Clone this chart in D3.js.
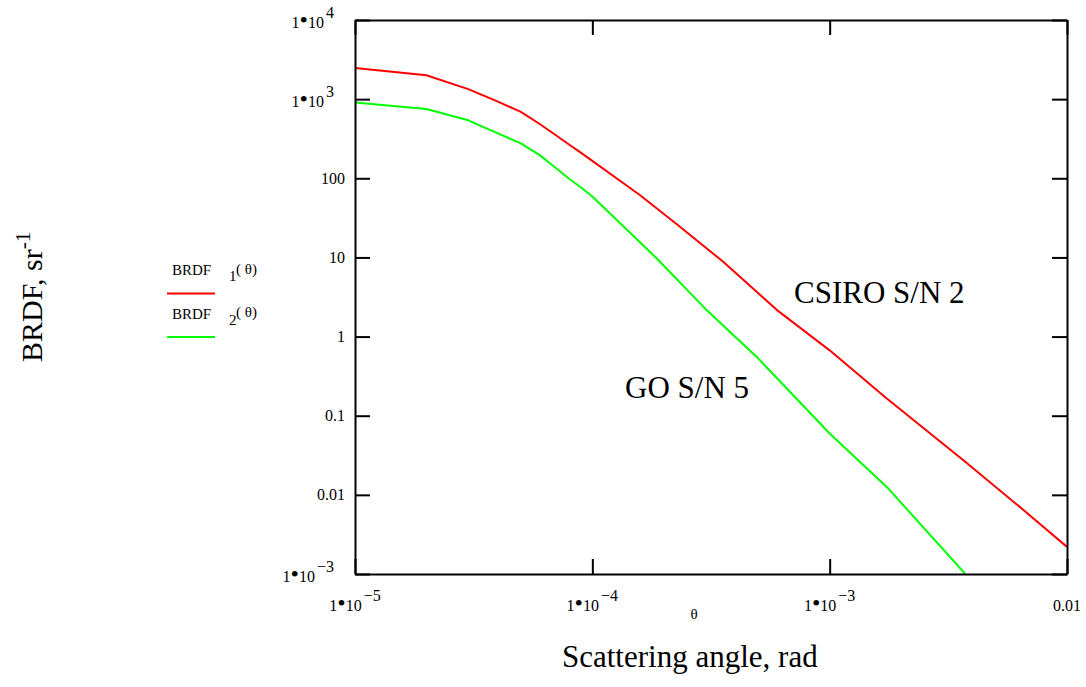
<!DOCTYPE html>
<html>
<head>
<meta charset="utf-8">
<script src="https://cdn.jsdelivr.net/npm/d3@7.9.0/dist/d3.min.js"></script>
<style>
  body { margin: 0; background: #fff; }
  svg { display: block; font-family: "Liberation Serif", "Times New Roman", serif; }
</style>
</head>
<body>
<svg id="chart" width="1086" height="687"></svg>
<script>
// scattering angle (rad) and BRDF values
const thetaRed = [1e-5, 2e-5, 3e-5, 4e-5, 5e-5, 6e-5, 7e-5, 8e-5, 9e-5, 1e-4,
  1.59e-4, 2.34e-4, 3.56e-4, 6e-4, 1e-3, 1.74e-3, 3.66e-3, 6.34e-3, 1e-2];
const brdfRed = [2470, 2000, 1340, 930, 690, 485, 352, 265, 208, 166,
  61, 24.4, 8.8, 2.16, 0.67, 0.165, 0.0274, 0.0070, 0.0022];

const thetaGreen = [1e-5, 2e-5, 3e-5, 4e-5, 5e-5, 6e-5, 7e-5, 8e-5, 9e-5, 1e-4,
  1.87e-4, 3.03e-4, 4.93e-4, 1e-3, 1.74e-3, 3.72e-3];
const brdfGreen = [910, 750, 540, 369, 276, 196, 136, 98, 76, 59,
  9.7, 2.16, 0.553, 0.0596, 0.0126, 0.00101];

const xTicks = [1e-5, 1e-4, 1e-3, 1e-2];
const xTickMant = ["1", "1", "1", ""];
const xTickBase = ["10", "10", "10", "0.01"];
const xTickExp = ["−5", "−4", "−3", ""];

const yTicks = [1e4, 1e3, 100, 10, 1, 0.1, 0.01, 1e-3];
const yTickMant = ["1", "1", "", "", "", "", "", "1"];
const yTickBase = ["10", "10", "100", "10", "1", "0.1", "0.01", "10"];
const yTickExp = ["4", "3", "", "", "", "", "", "−3"];

const seriesNames = ["1", "2"];
const seriesColors = ["#ff0000", "#00ff00"];

const svg = d3.select('#chart');
const plotLeft = 355, plotRight = 1067, plotTop = 20, plotBottom = 574;

const x = d3.scaleLog().domain([1e-5, 1e-2]).range([plotLeft, plotRight]);
const y = d3.scaleLog().domain([1e-3, 1e4]).range([plotBottom, plotTop]);

// clip so the curves stop at the frame
svg.append('clipPath').attr('id', 'plotclip')
  .append('rect').attr('x', plotLeft).attr('y', plotTop)
  .attr('width', plotRight - plotLeft).attr('height', plotBottom - plotTop);

const line = d3.line().x(d => x(d[0])).y(d => y(d[1]));

const series = [
  thetaRed.map((t, i) => [t, brdfRed[i]]),
  thetaGreen.map((t, i) => [t, brdfGreen[i]])
];

svg.append('g').attr('clip-path', 'url(#plotclip)')
  .selectAll('path')
  .data(series)
  .join('path')
  .attr('d', line)
  .attr('fill', 'none')
  .attr('stroke', (_, i) => seriesColors[i])
  .attr('stroke-width', 2)
  .attr('stroke-linejoin', 'round');

// inward ticks on all four sides, frame drawn by the domain paths
function styleAxis(g) {
  g.selectAll('.domain').attr('stroke', '#000').attr('stroke-width', 2);
  g.selectAll('.tick line').attr('stroke', '#000').attr('stroke-width', 2);
}
svg.append('g').attr('transform', `translate(0,${plotBottom})`)
  .call(d3.axisBottom(x).tickValues(xTicks).tickSize(-15).tickSizeOuter(0).tickFormat(''))
  .call(styleAxis);
svg.append('g').attr('transform', `translate(0,${plotTop})`)
  .call(d3.axisTop(x).tickValues(xTicks).tickSize(-15).tickSizeOuter(0).tickFormat(''))
  .call(styleAxis);
svg.append('g').attr('transform', `translate(${plotLeft},0)`)
  .call(d3.axisLeft(y).tickValues(yTicks).tickSize(-15).tickSizeOuter(0).tickFormat(''))
  .call(styleAxis);
svg.append('g').attr('transform', `translate(${plotRight},0)`)
  .call(d3.axisRight(y).tickValues(yTicks).tickSize(-15).tickSizeOuter(0).tickFormat(''))
  .call(styleAxis);

// "1•10^n" style label: mantissa, big dot, base, raised exponent
function sciLabel(t, mant, base, exp) {
  if (mant) {
    t.append('tspan').text(mant);
    t.append('tspan').attr('font-size', 24).text('•');
  }
  t.append('tspan').text(base);
  if (exp) t.append('tspan').attr('dy', -10).attr('dx', 2).text(exp);
}

// y tick labels
yTicks.forEach((v, i) => {
  const hasExp = yTickExp[i] !== '';
  const t = svg.append('text')
    .attr('x', hasExp ? plotLeft - 21 : plotLeft - 10)
    .attr('y', y(v) + (hasExp ? 8 : 5.5))
    .attr('text-anchor', 'end')
    .attr('font-size', 16);
  sciLabel(t, yTickMant[i], yTickBase[i], yTickExp[i]);
});

// x tick labels
xTicks.forEach((v, i) => {
  const t = svg.append('text')
    .attr('x', x(v))
    .attr('y', 611)
    .attr('text-anchor', 'middle')
    .attr('font-size', 16);
  sciLabel(t, xTickMant[i], xTickBase[i], xTickExp[i]);
});

svg.append('text').attr('x', 694).attr('y', 619).attr('text-anchor', 'middle')
  .attr('font-size', 15).text('θ');

svg.append('text').attr('x', 562).attr('y', 667).attr('font-size', 31)
  .text('Scattering angle, rad');

const yt = svg.append('text')
  .attr('transform', 'translate(42,362) rotate(-90)')
  .attr('font-size', 30);
yt.append('tspan').text('BRDF, sr');
yt.append('tspan').attr('dy', -12).attr('font-size', 21).text('-1');

// curve annotations
svg.append('text').attr('x', 794).attr('y', 303).attr('font-size', 31).text('CSIRO S/N 2');
svg.append('text').attr('x', 625).attr('y', 398).attr('font-size', 31).text('GO S/N 5');

// legend
seriesNames.forEach((name, i) => {
  const y0 = 275 + i * 43.5;
  svg.append('text').attr('x', 172).attr('y', y0).attr('font-size', 15).text('BRDF');
  svg.append('text').attr('x', 229).attr('y', y0 + 6).attr('font-size', 15).text(name);
  svg.append('text').attr('x', 236).attr('y', y0 - 1.5).attr('font-size', 15).text('( θ)');
  svg.append('line')
    .attr('x1', 167).attr('x2', 215)
    .attr('y1', y0 + 18.5).attr('y2', y0 + 18.5)
    .attr('stroke', seriesColors[i]).attr('stroke-width', 2);
});
</script>
</body>
</html>
